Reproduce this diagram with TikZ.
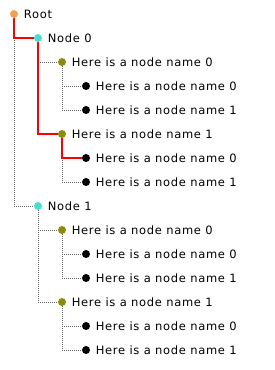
\documentclass[tikz,border=0pt]{standalone}
\usepackage{fontspec}
\setmainfont{DejaVu Sans}[LetterSpace=6]
\usetikzlibrary{positioning, backgrounds}
\definecolor{rootdot}{RGB}{240,162,82}
\definecolor{groupdot}{RGB}{70,222,208}
\definecolor{itemdot}{RGB}{140,140,10}
\definecolor{linkgray}{RGB}{100,100,100}

\begin{document}
\begin{tikzpicture}[
      x=1pt, y=-1pt,
      dot/.style={circle, inner sep=0pt, minimum size=8pt, fill=#1},
      txt/.style={inner sep=1pt, right=4.5pt of #1, font=\fontsize{11.5pt}{14pt}\selectfont},
      link/.style={draw=linkgray, line width=1pt, dash pattern=on 1pt off 1pt},
      path/.style={draw=red, line width=2.6pt}
    ]
    \useasboundingbox (0,0) rectangle (275,370);

    % Root
    \node[dot=rootdot] (root) at (14,14) {};
    \node[txt=root] (root-t) {Root};

    % Node 0 and its children
    \node[dot=groupdot] (n0) at (38,38) {};
    \node[txt=n0] (n0-t) {Node 0};
    \node[dot=itemdot] (n0a) at (62,62) {};
    \node[txt=n0a] (n0a-t) {Here is a node name 0};
    \node[dot=black] (n0a0) at (86,86) {};
    \node[txt=n0a0] (n0a0-t) {Here is a node name 0};
    \node[dot=black] (n0a1) at (86,110) {};
    \node[txt=n0a1] (n0a1-t) {Here is a node name 1};
    \node[dot=itemdot] (n0b) at (62,134) {};
    \node[txt=n0b] (n0b-t) {Here is a node name 1};
    \node[dot=black] (n0b0) at (86,158) {};
    \node[txt=n0b0] (n0b0-t) {Here is a node name 0};
    \node[dot=black] (n0b1) at (86,182) {};
    \node[txt=n0b1] (n0b1-t) {Here is a node name 1};

    % Node 1 and its children
    \node[dot=groupdot] (n1) at (38,206) {};
    \node[txt=n1] (n1-t) {Node 1};
    \node[dot=itemdot] (n1a) at (62,230) {};
    \node[txt=n1a] (n1a-t) {Here is a node name 0};
    \node[dot=black] (n1a0) at (86,254) {};
    \node[txt=n1a0] (n1a0-t) {Here is a node name 0};
    \node[dot=black] (n1a1) at (86,278) {};
    \node[txt=n1a1] (n1a1-t) {Here is a node name 1};
    \node[dot=itemdot] (n1b) at (62,302) {};
    \node[txt=n1b] (n1b-t) {Here is a node name 1};
    \node[dot=black] (n1b0) at (86,326) {};
    \node[txt=n1b0] (n1b0-t) {Here is a node name 0};
    \node[dot=black] (n1b1) at (86,350) {};
    \node[txt=n1b1] (n1b1-t) {Here is a node name 1};

    \begin{scope}[on background layer]
      % Tree links
      \draw[link] (root) |- (n1);
      \draw[link] (n0) |- (n0a);
      \draw[link] (n0a) |- (n0a0);
      \draw[link] (n0a) |- (n0a1);
      \draw[link] (n0b) |- (n0b1);
      \draw[link] (n1) |- (n1a);
      \draw[link] (n1) |- (n1b);
      \draw[link] (n1a) |- (n1a0);
      \draw[link] (n1a) |- (n1a1);
      \draw[link] (n1b) |- (n1b0);
      \draw[link] (n1b) |- (n1b1);

      % Selected path
      \draw[path] (root) |- (n0);
      \draw[path] (n0) |- (n0b);
      \draw[path] (n0b) |- (n0b0);
    \end{scope}

  \end{tikzpicture}
\end{document}
